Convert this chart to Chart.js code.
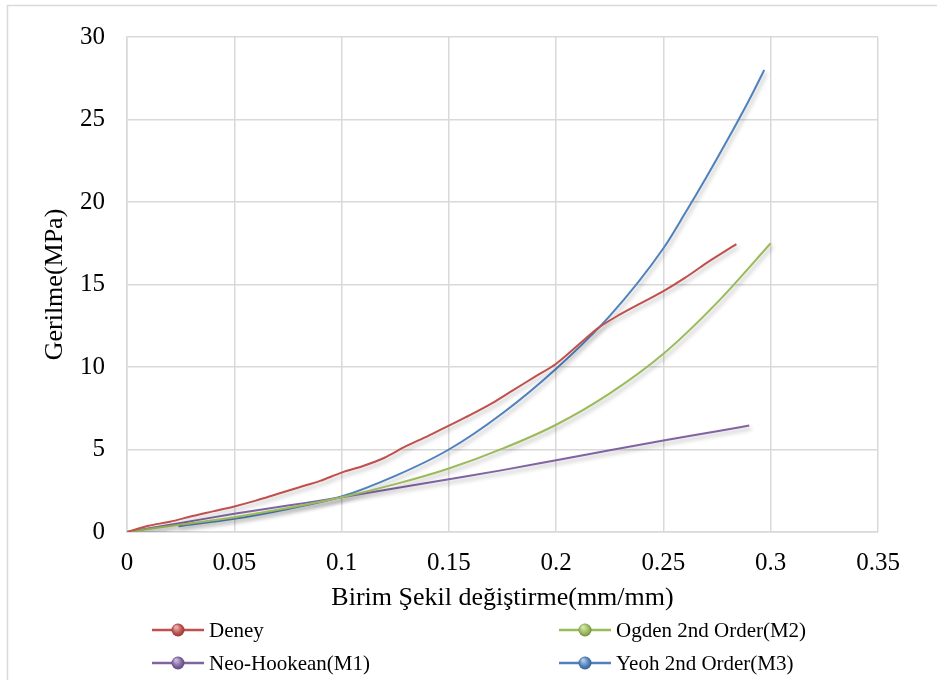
<!DOCTYPE html>
<html>
<head>
<meta charset="utf-8">
<script src="https://cdn.jsdelivr.net/npm/chart.js@4"></script>
<style>
  html, body { margin: 0; padding: 0; background: #fff; overflow: hidden; }
  #wrap { width: 937px; height: 680px; position: relative; }
</style>
</head>
<body>
<div id="wrap"><canvas id="chart" width="937" height="680"></canvas></div>
<script>
// values
const xTicks = [0, 0.05, 0.1, 0.15, 0.2, 0.25, 0.3, 0.35];
const yTicks = [0, 5, 10, 15, 20, 25, 30];

const deneyX = [0, 0.005, 0.01, 0.02, 0.03, 0.04, 0.05, 0.06, 0.07, 0.08, 0.09, 0.1, 0.11, 0.12, 0.13, 0.14, 0.15, 0.16, 0.17, 0.18, 0.19, 0.2, 0.21, 0.22, 0.23, 0.24, 0.25, 0.26, 0.27, 0.284];
const deneyY = [0, 0.2, 0.38, 0.62, 0.95, 1.25, 1.55, 1.9, 2.3, 2.7, 3.1, 3.6, 4.0, 4.5, 5.2, 5.8, 6.45, 7.1, 7.8, 8.6, 9.4, 10.2, 11.3, 12.4, 13.2, 13.9, 14.6, 15.4, 16.3, 17.45];

const ogdenX = [0, 0.025, 0.05, 0.075, 0.1, 0.125, 0.15, 0.175, 0.2, 0.225, 0.25, 0.275, 0.3];
const ogdenY = [0, 0.45, 0.9, 1.45, 2.1, 2.9, 3.85, 5.05, 6.5, 8.4, 10.8, 13.9, 17.5];

const neoX = [0, 0.025, 0.05, 0.075, 0.1, 0.125, 0.15, 0.175, 0.2, 0.225, 0.25, 0.275, 0.29];
const neoY = [0, 0.55, 1.1, 1.6, 2.1, 2.65, 3.2, 3.75, 4.35, 4.95, 5.55, 6.1, 6.45];

const yeohX = [0.024, 0.05, 0.075, 0.1, 0.125, 0.15, 0.175, 0.2, 0.225, 0.25, 0.26, 0.27, 0.28, 0.29, 0.297];
const yeohY = [0.35, 0.8, 1.4, 2.15, 3.4, 5.0, 7.2, 9.9, 13.1, 17.2, 19.3, 21.5, 23.8, 26.2, 28.0];

const seriesNames = ['Deney', 'Ogden 2nd Order(M2)', 'Neo-Hookean(M1)', 'Yeoh 2nd Order(M3)'];
const seriesColors = ['#C0504D', '#9BBB59', '#8064A2', '#4F81BD'];

const FONT = '"Liberation Serif", "Times New Roman", serif';

function pts(xs, ys) {
    return xs.map((x, i) => ({ x: x, y: ys[i] }));
}

const datasets = [
    pts(deneyX, deneyY),
    pts(ogdenX, ogdenY),
    pts(neoX, neoY),
    pts(yeohX, yeohY)
].map((data, i) => ({
    label: seriesNames[i],
    data: data,
    borderColor: seriesColors[i],
    backgroundColor: seriesColors[i],
    borderWidth: 2,
    pointRadius: 0,
    tension: 0.4,
    cubicInterpolationMode: 'monotone',
    fill: false
}));

// soft shadow under the lines, like the office chart
const shadowPlugin = {
    id: 'lineShadow',
    beforeDatasetDraw(chart) {
        const ctx = chart.ctx;
        ctx.save();
        ctx.shadowColor = 'rgba(0,0,0,0.28)';
        ctx.shadowBlur = 4;
        ctx.shadowOffsetX = 2;
        ctx.shadowOffsetY = 3;
    },
    afterDatasetDraw(chart) {
        chart.ctx.restore();
    }
};

function shade(hex, f) {
    const n = parseInt(hex.slice(1), 16);
    let r = (n >> 16) & 255, g = (n >> 8) & 255, b = n & 255;
    if (f > 0) { r += (255 - r) * f; g += (255 - g) * f; b += (255 - b) * f; }
    else { r *= 1 + f; g *= 1 + f; b *= 1 + f; }
    return 'rgb(' + Math.round(r) + ',' + Math.round(g) + ',' + Math.round(b) + ')';
}

// legend in two columns + outer frame
const legendPlugin = {
    id: 'bottomLegend',
    afterDraw(chart) {
        const ctx = chart.ctx;
        ctx.save();
        ctx.strokeStyle = '#d9d9d9';
        ctx.lineWidth = 1.5;
        ctx.strokeRect(7.5, 5.5, 1000, 1000);

        const colX = [152, 559];
        const rowY = [630, 663];
        ctx.font = '21px ' + FONT;
        ctx.textBaseline = 'middle';
        ctx.textAlign = 'left';
        chart.data.datasets.forEach((ds, i) => {
            const x = colX[i % 2];
            const y = rowY[Math.floor(i / 2)];
            ctx.strokeStyle = ds.borderColor;
            ctx.lineWidth = 2.5;
            ctx.beginPath();
            ctx.moveTo(x, y);
            ctx.lineTo(x + 52, y);
            ctx.stroke();
            const cx = x + 26;
            const grad = ctx.createRadialGradient(cx - 2, y - 3, 1, cx, y, 7);
            grad.addColorStop(0, shade(ds.borderColor, 0.55));
            grad.addColorStop(0.6, ds.borderColor);
            grad.addColorStop(1, shade(ds.borderColor, -0.3));
            ctx.fillStyle = grad;
            ctx.beginPath();
            ctx.arc(cx, y, 6.5, 0, Math.PI * 2);
            ctx.fill();
            ctx.fillStyle = '#000';
            ctx.fillText(ds.label, x + 57, y + 1);
        });
        ctx.restore();
    }
};

new Chart(document.getElementById('chart'), {
    type: 'line',
    data: { datasets: datasets },
    options: {
        responsive: false,
        animation: false,
        layout: { padding: { top: 34, right: 59, left: 0, bottom: 0 } },
        plugins: {
            legend: { display: false },
            tooltip: { enabled: false }
        },
        scales: {
            x: {
                type: 'linear',
                min: xTicks[0],
                max: xTicks[xTicks.length - 1],
                afterBuildTicks: s => { s.ticks = xTicks.map(v => ({ value: v })); },
                afterFit: s => { s.height = 148; },
                grid: { color: '#d9d9d9', lineWidth: 1.5, drawTicks: false },
                border: { color: '#d9d9d9', width: 1.5 },
                ticks: {
                    color: '#000',
                    padding: 16,
                    maxRotation: 0,
                    font: { family: FONT, size: 25 },
                    callback: v => String(+v.toFixed(2))
                },
                title: {
                    display: true,
                    text: 'Birim Şekil değiştirme(mm/mm)',
                    color: '#000',
                    font: { family: FONT, size: 26 },
                    padding: { top: 0, bottom: 66 }
                }
            },
            y: {
                min: yTicks[0],
                max: yTicks[yTicks.length - 1],
                afterBuildTicks: s => { s.ticks = yTicks.map(v => ({ value: v })); },
                afterFit: s => { s.width = 127; },
                grid: { color: '#d9d9d9', lineWidth: 1.5, drawTicks: false },
                border: { color: '#d9d9d9', width: 1.5 },
                ticks: {
                    color: '#000',
                    padding: 22,
                    font: { family: FONT, size: 25 }
                },
                title: {
                    display: true,
                    text: 'Gerilme(MPa)',
                    color: '#000',
                    font: { family: FONT, size: 26 },
                    padding: { top: 40, bottom: 0 }
                }
            }
        }
    },
    plugins: [shadowPlugin, legendPlugin]
});
</script>
</body>
</html>
